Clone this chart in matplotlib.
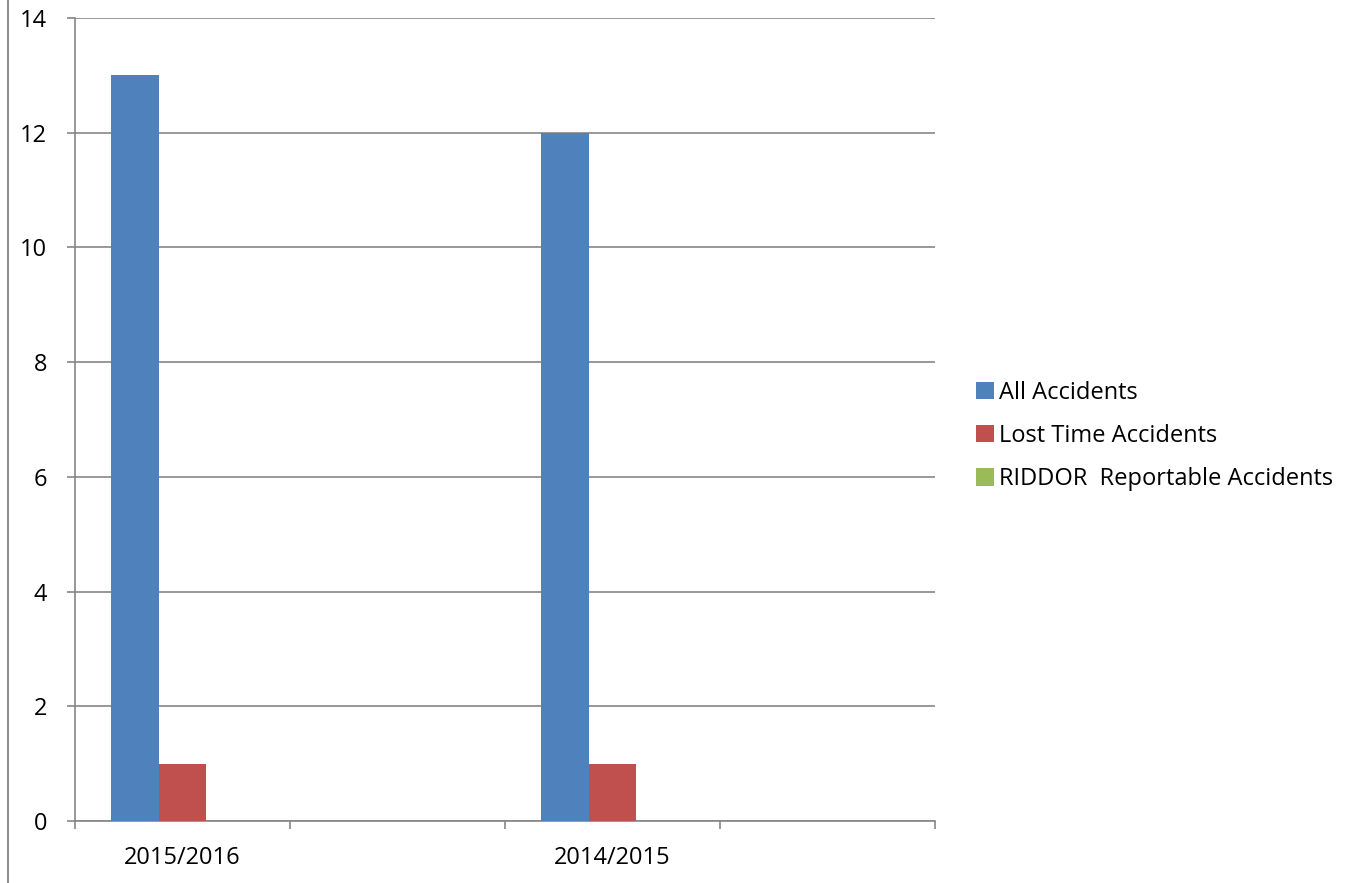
import matplotlib.pyplot as plt
from matplotlib.lines import Line2D
import numpy as np

categories = ["2015/2016", "", "2014/2015", ""]
all_accidents = [13, 0, 12, 0]
lost_time = [1, 0, 1, 0]
riddor = [0, 0, 0, 0]

series = [
    ("All Accidents", all_accidents, "#4F81BD"),
    ("Lost Time Accidents", lost_time, "#C0504D"),
    ("RIDDOR  Reportable Accidents", riddor, "#9BBB59"),
]

plt.rcParams["font.family"] = ["Open Sans", "DejaVu Sans"]
FS = 17
GRAY = "#868686"

fig = plt.figure(figsize=(13.47, 8.83), dpi=100)
ax = fig.add_axes([75 / 1347, 1 - 821 / 883, (935 - 75) / 1347, (821 - 18) / 883])

x = np.arange(len(categories))
w = 1 / 4.5
for i, (name, vals, color) in enumerate(series):
    ax.bar(x + (i - 1) * w, vals, width=w, color=color, label=name, zorder=3)

ax.set_xlim(-0.5, len(categories) - 0.5)
ax.set_ylim(0, 14)
ax.set_yticks(range(0, 15, 2))
ax.yaxis.grid(True, color=GRAY, linewidth=1.2, zorder=0)

ax.set_xticks(x)
ax.set_xticklabels(categories, fontsize=FS)
ax.set_xticks(np.arange(-0.5, len(categories), 1), minor=True)
ax.tick_params(axis="x", which="major", length=0, pad=18)
ax.tick_params(axis="x", which="minor", length=6, width=1.2, color=GRAY, direction="out")
ax.tick_params(axis="y", length=6, width=1.2, color=GRAY, labelsize=FS, pad=14)

for side in ["top", "right"]:
    ax.spines[side].set_visible(False)
for side in ["left", "bottom"]:
    ax.spines[side].set_color(GRAY)
    ax.spines[side].set_linewidth(1.2)

# chart-area border at far left
fig.add_artist(Line2D([8 / 1347, 8 / 1347], [0, 1], color="#909090", linewidth=1.5))

fig.legend(loc="center left", bbox_to_anchor=(976 / 1347, 1 - 436 / 883),
           frameon=False, fontsize=FS, handlelength=0.76, handleheight=0.76,
           handletextpad=0.2, labelspacing=0.82, borderpad=0, borderaxespad=0)

plt.savefig("out.png", dpi=100)
